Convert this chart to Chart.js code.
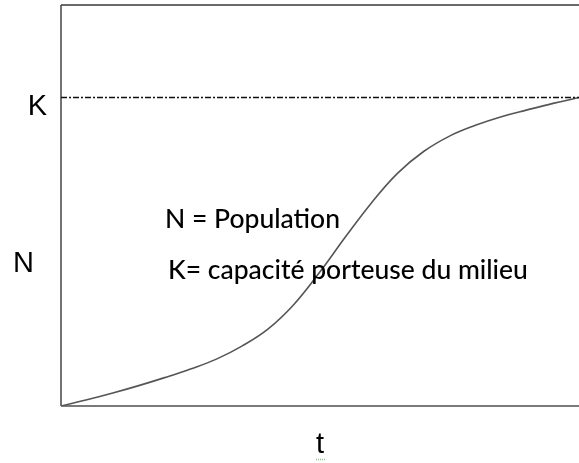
<!DOCTYPE html>
<html>
<head>
<meta charset="utf-8">
<script src="https://cdn.jsdelivr.net/npm/chart.js@4"></script>
<style>
  html, body { margin: 0; padding: 0; background: #fff; }
  #wrap { width: 579px; height: 463px; position: relative; }
</style>
</head>
<body>
<div id="wrap"><canvas id="c" width="579" height="463"></canvas></div>
<script>
// Time (t, as % of the drawn span) and population N (K = 100)
const timeValues = [0, 5, 10, 15, 20, 25, 30, 35, 40, 45, 50, 55, 60, 65, 70, 75, 80, 85, 90, 95, 100];
const populationValues = [0, 2, 4.2, 6.6, 9.2, 12, 15.2, 19.5, 25, 33, 43.5, 55, 66, 75.5, 82.5, 87.5, 91, 93.8, 96, 98.1, 100];
const carryingCapacity = 100;
const capacityLineX = [0, 100];
const yTickLabels = { 100: 'K' };
const xTitle = 't';
const yLabel = 'N';
const noteLines = ['N = Population', 'K= capacité porteuse du milieu'];

const curve = timeValues.map((t, i) => ({ x: t, y: populationValues[i] }));
const kLine = capacityLineX.map(x => ({ x: x, y: carryingCapacity }));

const framePlugin = {
  id: 'frame',
  beforeDatasetsDraw(chart) {
    const { ctx, chartArea: a } = chart;
    ctx.save();
    ctx.strokeStyle = '#6a6a6a';
    ctx.lineWidth = 2;
    ctx.beginPath();
    ctx.moveTo(a.left, a.top);
    ctx.lineTo(a.right, a.top);
    ctx.stroke();
    ctx.strokeStyle = '#7a7a7a';
    ctx.beginPath();
    ctx.moveTo(a.left, a.bottom);
    ctx.lineTo(a.right, a.bottom);
    ctx.stroke();
    ctx.strokeStyle = '#444';
    ctx.lineWidth = 1.5;
    ctx.beginPath();
    ctx.moveTo(a.left, a.top);
    ctx.lineTo(a.left, a.bottom);
    ctx.stroke();
    ctx.restore();
  },
  afterDraw(chart) {
    const { ctx } = chart;
    ctx.save();
    ctx.fillStyle = '#000';
    ctx.textBaseline = 'alphabetic';
    ctx.textAlign = 'left';
    ctx.font = '29px "Liberation Sans", Arial, sans-serif';
    ctx.fillText(yLabel, 13, 272);
    ctx.font = '500 26.5px Lato, "Open Sans", sans-serif';
    ctx.fillText(noteLines[0], 165, 228);
    ctx.fillText(noteLines[1], 168, 279);
    // spell-check squiggle under the axis title
    const xs = chart.scales.x;
    const cx = (xs.left + xs.right) / 2;
    ctx.strokeStyle = '#8fc28f';
    ctx.lineWidth = 1.5;
    ctx.setLineDash([1, 1]);
    ctx.beginPath();
    ctx.moveTo(cx - 4, 459.5);
    ctx.lineTo(cx + 5, 459.5);
    ctx.stroke();
    ctx.restore();
  }
};

new Chart(document.getElementById('c'), {
  type: 'scatter',
  data: {
    datasets: [
      {
        data: kLine,
        showLine: true,
        borderColor: '#111',
        borderWidth: 1.5,
        borderDash: [6, 2, 2, 2],
        pointRadius: 0
      },
      {
        data: curve,
        showLine: true,
        borderColor: '#555',
        borderWidth: 1.6,
        pointRadius: 0,
        tension: 0.4
      }
    ]
  },
  options: {
    responsive: false,
    animation: false,
    events: [],
    layout: { padding: { top: 5, right: 0, left: 0, bottom: 0 } },
    plugins: { legend: { display: false }, tooltip: { enabled: false } },
    scales: {
      x: {
        type: 'linear',
        min: 0,
        max: 100,
        grid: { display: false, drawTicks: false },
        border: { display: false },
        ticks: { display: false },
        title: {
          display: true,
          text: xTitle,
          color: '#000',
          font: { family: '"Liberation Sans", Arial, sans-serif', size: 29 },
          padding: { top: 0, bottom: 1 }
        },
        afterFit(scale) { scale.height = 57; scale.paddingLeft = 0; scale.paddingRight = 0; }
      },
      y: {
        type: 'linear',
        min: 0,
        max: 130,
        grid: { display: false, drawTicks: false },
        border: { display: false },
        afterBuildTicks(scale) { scale.ticks = Object.keys(yTickLabels).map(v => ({ value: Number(v) })); },
        ticks: {
          padding: 14,
          labelOffset: 9,
          color: '#000',
          font: { family: '"Liberation Sans", Arial, sans-serif', size: 29 },
          callback: (v) => yTickLabels[v] || ''
        },
        afterFit(scale) { scale.width = 61; scale.paddingTop = 0; scale.paddingBottom = 0; }
      }
    }
  },
  plugins: [framePlugin]
});
</script>
</body>
</html>
